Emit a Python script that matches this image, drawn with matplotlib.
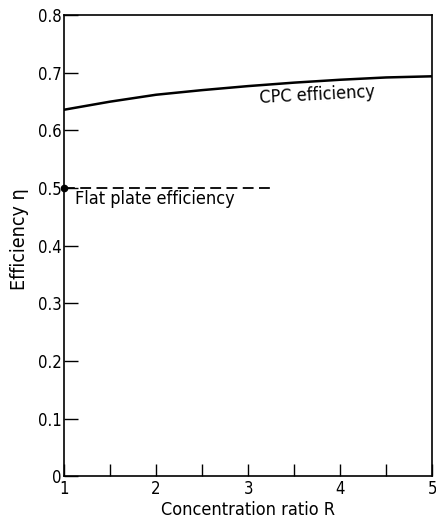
import matplotlib
matplotlib.use("Agg")
import matplotlib.pyplot as plt
from matplotlib.ticker import MultipleLocator

plt.rcParams['font.family'] = ['DejaVu Sans']
plt.rcParams['font.stretch'] = 'condensed'

# CPC efficiency curve
ratio = [1.0, 1.5, 2.0, 2.5, 3.0, 3.5, 4.0, 4.5, 5.0]
cpc_eff = [0.636, 0.650, 0.662, 0.670, 0.677, 0.683, 0.688, 0.692, 0.694]

# flat plate efficiency (dashed)
flat_ratio = [1.0, 3.27]
flat_eff = [0.5, 0.5]

x_ticks = [1, 2, 3, 4, 5]
y_ticks = [0, 0.1, 0.2, 0.3, 0.4, 0.5, 0.6, 0.7, 0.8]
y_labels = ['0', '0.1', '0.2', '0.3', '0.4', '0.5', '0.6', '0.7', '0.8']

fig = plt.figure(figsize=(4.36, 5.25), dpi=100)
ax = fig.add_axes([0.147, 0.093, 0.844, 0.878])

ax.plot(ratio, cpc_eff, color='black', lw=1.8)
ax.plot(flat_ratio, flat_eff, color='black', lw=1.3, ls=(0, (6, 3)))
ax.plot([flat_ratio[0]], [flat_eff[0]], 'o', color='black', ms=4.5, clip_on=False)

ax.set_xlim(1, 5)
ax.set_ylim(0, 0.8)
ax.set_xticks(x_ticks)
ax.xaxis.set_minor_locator(MultipleLocator(0.5))
ax.set_yticks(y_ticks)
ax.set_yticklabels(y_labels)

ax.tick_params(axis='x', which='both', direction='in', length=9, width=1,
               labelsize=12, pad=3, top=False)
ax.tick_params(axis='y', which='both', direction='in', length=10, width=1,
               labelsize=12, pad=2, right=False)
for s in ax.spines.values():
    s.set_linewidth(1.2)

ax.set_xlabel('Concentration ratio R', fontsize=13, labelpad=2)
ax.set_ylabel('Efficiency η', fontsize=14)
ax.yaxis.set_label_coords(-0.095, 0.515)

ax.text(3.75, 0.662, 'CPC efficiency', fontsize=13, ha='center', va='center', rotation=3)
ax.text(1.12, 0.481, 'Flat plate efficiency', fontsize=13, ha='left', va='center')

fig.savefig('out.png', dpi=100)
